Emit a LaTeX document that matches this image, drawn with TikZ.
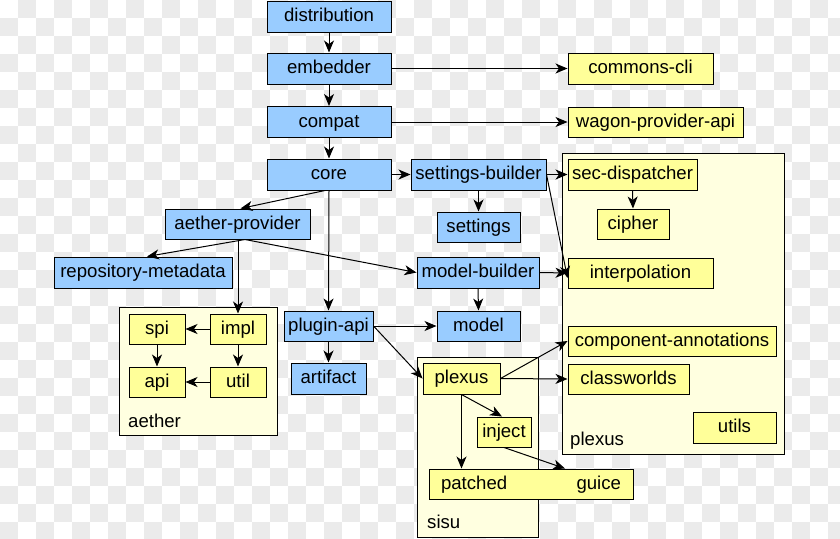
\documentclass[tikz,border=0pt]{standalone}
\usepackage{fontspec}
\setmainfont{Liberation Sans}
\usetikzlibrary{arrows.meta}
\definecolor{bluebox}{RGB}{153,204,255}
\definecolor{yellowbox}{RGB}{255,255,153}
\definecolor{groupfill}{RGB}{255,255,224}
\definecolor{checkgray}{RGB}{235,235,235}
\tikzset{
  base/.style={draw=black, line width=1pt, inner sep=0pt, text height=12.5pt, text depth=2pt,
    font=\fontsize{18.6}{20}\selectfont},
  bbox/.style={base, fill=bluebox},
  ybox/.style={base, fill=yellowbox},
  group/.style={draw=black, line width=1pt, fill=groupfill},
  glabel/.style={anchor=base west, inner sep=0pt, font=\fontsize{18.6}{20}\selectfont},
  conn/.style={line width=1pt, -{Stealth[length=12pt,width=10pt,inset=3.5pt]}},
}
\begin{document}
\begin{tikzpicture}[x=1pt,y=-1pt]
\useasboundingbox (0,0) rectangle (840,538);
% checkerboard background
\foreach \i in {0,...,46}{\foreach \j in {0,...,29}{\ifodd\numexpr\i+\j\relax \fill[checkgray] (\i*18,\j*18) rectangle ++(18,18);\fi}}

% containers
\draw[group] (562,153) rectangle (784,454);
\draw[group] (119,307) rectangle (277,435);
\draw[group] (417,357) rectangle (538,537);
\node[glabel] (lplexus) at (570,445) {plexus};
\node[glabel] (laether) at (128,427) {aether};
\node[glabel] (lsisu) at (427,528) {sisu};

% blue nodes
\node[bbox, minimum width=124pt, minimum height=31pt] (dist) at (329,16.5) {distribution};
\node[bbox, minimum width=124pt, minimum height=31pt] (emb) at (329,68.5) {embedder};
\node[bbox, minimum width=124pt, minimum height=31pt] (compat) at (329,122) {compat};
\node[bbox, minimum width=124pt, minimum height=31pt] (core) at (329,174.5) {core};
\node[bbox, minimum width=145pt, minimum height=30pt] (aprov) at (237.5,224) {aether-provider};
\node[bbox, minimum width=178pt, minimum height=31pt] (repo) at (143,272.5) {repository-metadata};
\node[bbox, minimum width=135pt, minimum height=31pt] (sbuild) at (478.5,174.5) {settings-builder};
\node[bbox, minimum width=83pt, minimum height=30pt] (settings) at (478.5,227) {settings};
\node[bbox, minimum width=122pt, minimum height=31pt] (mbuild) at (478,272.5) {model-builder};
\node[bbox, minimum width=89pt, minimum height=30pt] (papi) at (328.5,326) {plugin-api};
\node[bbox, minimum width=75pt, minimum height=31pt] (artifact) at (328.5,378.5) {artifact};
\node[bbox, minimum width=83pt, minimum height=30pt] (model) at (478.5,326) {model};

% yellow nodes
\node[ybox, minimum width=145pt, minimum height=31pt] (ccli) at (640.5,68.5) {commons-cli};
\node[ybox, minimum width=175pt, minimum height=30pt] (wagon) at (655.5,122) {wagon-provider-api};
\node[ybox, minimum width=129pt, minimum height=31pt] (secd) at (632.5,174.5) {sec-dispatcher};
\node[ybox, minimum width=72pt, minimum height=30pt] (cipher) at (633,224) {cipher};
\node[ybox, minimum width=145pt, minimum height=30pt] (interp) at (640.5,273) {interpolation};
\node[ybox, minimum width=208pt, minimum height=30pt] (comp) at (672,341) {component-annotations};
\node[ybox, minimum width=121pt, minimum height=30pt] (classw) at (628.5,379) {classworlds};
\node[ybox, minimum width=83pt, minimum height=31pt] (utils) at (734.5,427.5) {utils};
\node[ybox, minimum width=56pt, minimum height=30pt] (spi) at (157,329) {spi};
\node[ybox, minimum width=56pt, minimum height=30pt] (impl) at (238,329) {impl};
\node[ybox, minimum width=56pt, minimum height=30pt] (api) at (157,382) {api};
\node[ybox, minimum width=56pt, minimum height=30pt] (util) at (238,382) {util};
\node[ybox, minimum width=77pt, minimum height=31pt] (plexus) at (461.5,378.5) {plexus};
\node[ybox, minimum width=54pt, minimum height=30pt] (inject) at (504,432) {inject};
\node[ybox, minimum width=204pt, minimum height=30pt, text width=180pt, align=left] (pguice) at (531,484) {patched\hfill guice};

% connectors
\draw[conn] (dist) -- (emb);
\draw[conn] (emb) -- (compat);
\draw[conn] (compat) -- (core);
\draw[conn] (emb.east) -- (ccli.west);
\draw[conn] (compat.east) -- (wagon.west);
\draw[conn] (core.east) -- (sbuild.west);
\draw[conn] ([xshift=-4pt]core.south) -- ([xshift=3pt]aprov.north);
\draw[conn] (core.south) -- (papi.north);
\draw[conn] ([xshift=7.5pt]aprov.south) -- ([xshift=4pt]repo.north);
\draw[conn] (impl.north |- aprov.south) -- (impl.north);
\draw[conn] ([xshift=7.5pt]aprov.south) -- (mbuild.west);
\draw[conn] (sbuild.south) -- (settings.north);
\draw[conn] (sbuild.east) -- (secd.west);
\draw[conn] (sbuild.east) -- ([yshift=-5pt]interp.west);
\draw[conn] (mbuild.east) -- (interp.west);
\draw[conn] (mbuild.south) -- (model.north);
\draw[conn] (papi.east) -- (model.west);
\draw[conn] (papi.south) -- (artifact.north);
\draw[conn] (papi.east) -- (plexus.west);
\draw[conn] (plexus.east) -- (comp.west);
\draw[conn] (plexus.east) -- (classw.west);
\draw[conn] (plexus.south) -- ([xshift=-2pt]inject.north);
\draw[conn] (plexus.south) -- (plexus.south |- pguice.north);
\draw[conn] (inject.south) -- ([xshift=34pt]pguice.north);
\draw[conn] (secd.south) -- (cipher.north);
\draw[conn] (impl.west) -- (spi.east);
\draw[conn] (impl.south) -- (util.north);
\draw[conn] (spi.south) -- (api.north);
\draw[conn] (util.west) -- (api.east);
\end{tikzpicture}
\end{document}
